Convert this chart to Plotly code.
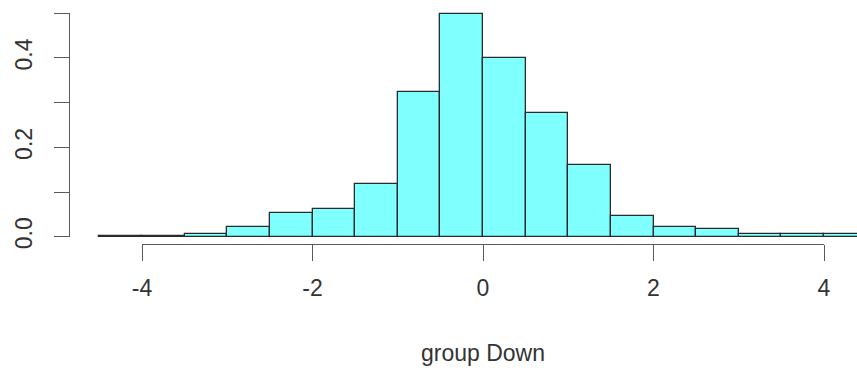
import plotly.graph_objects as go

# ---- data ----
bin_left = [-4.5, -4.0, -3.5, -3.0, -2.5, -2.0, -1.5, -1.0, -0.5,
            0.0, 0.5, 1.0, 1.5, 2.0, 2.5, 3.0, 3.5, 4.0]
density = [0.001, 0.001, 0.005, 0.022, 0.054, 0.062, 0.117, 0.323, 0.498,
           0.399, 0.277, 0.161, 0.046, 0.022, 0.017, 0.005, 0.005, 0.005]
bin_width = 0.5
x_ticks = [-4, -2, 0, 2, 4]
y_ticks = [0.0, 0.1, 0.2, 0.3, 0.4, 0.5]
y_ticktext = ["0.0", "", "0.2", "", "0.4", ""]
x_label = "group Down"

W, H = 857, 372
# pixel calibration
x0_px, x_scale = 483.0, 85.25      # px of x=0, px per unit
y0_px, y_scale = 236.7, 446.8      # px of y=0, px per unit

centers = [b + bin_width / 2 for b in bin_left]

fig = go.Figure()
fig.add_bar(x=centers, y=density, width=bin_width,
            marker=dict(color="rgb(128,255,255)",
                        line=dict(color="#2b2b2b", width=1.3)),
            xaxis="x", yaxis="y", hoverinfo="skip")
# empty trace to carry visible R-style axes
fig.add_scatter(x=[], y=[], xaxis="x2", yaxis="y2", hoverinfo="skip",
                showlegend=False)

font = dict(family="Liberation Sans, Arial, sans-serif", size=23, color="#333")
axcol = "#5a5a5a"

fig.update_layout(
    width=W, height=H, autosize=False,
    margin=dict(l=0, r=0, t=0, b=0),
    paper_bgcolor="white", plot_bgcolor="rgba(0,0,0,0)",
    showlegend=False, font=font, bargap=0,
    xaxis=dict(domain=[0, 1], range=[(0 - x0_px) / x_scale, (W - x0_px) / x_scale],
               visible=False, fixedrange=True),
    yaxis=dict(domain=[0, 1], range=[(y0_px - H) / y_scale, y0_px / y_scale],
               visible=False, fixedrange=True),
    xaxis2=dict(domain=[(x0_px - 4 * x_scale) / W, (x0_px + 4 * x_scale) / W],
                range=[-4, 4], anchor="free", position=1 - 243.5 / H,
                showline=True, linecolor=axcol, linewidth=1.4,
                ticks="outside", ticklen=16, tickwidth=1.4, tickcolor=axcol,
                tickvals=x_ticks, ticktext=[str(v) for v in x_ticks],
                showgrid=False, zeroline=False, ticklabelstandoff=8,
                title=dict(text=x_label, standoff=44, font=font),
                automargin=False, fixedrange=True),
    yaxis2=dict(domain=[1 - y0_px / H, 1 - (y0_px - 0.5 * y_scale) / H],
                range=[0, 0.5], anchor="free", position=69 / W,
                showline=True, linecolor=axcol, linewidth=1.4,
                ticks="outside", ticklen=15, tickwidth=1.4, tickcolor=axcol,
                tickvals=y_ticks, ticktext=y_ticktext, tickangle=-90,
                showgrid=False, zeroline=False, ticklabelstandoff=13,
                automargin=False, fixedrange=True),
)

fig.write_html("out.html", config={"displayModeBar": False},
               post_script="document.body.style.margin='0';")
